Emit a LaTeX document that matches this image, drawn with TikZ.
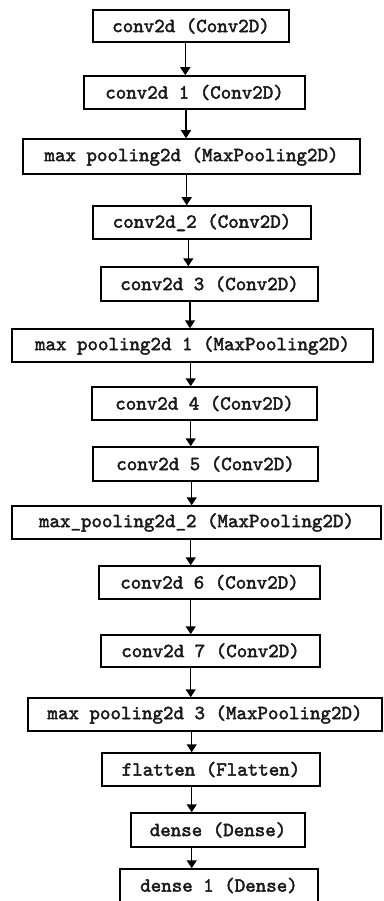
\documentclass[tikz,border=0pt]{standalone}
\usepackage{fontspec}
\newfontfamily\layerfont{lmmono10-regular.otf}[FakeBold=2.2]
\usetikzlibrary{arrows.meta}
\begin{document}
\begin{tikzpicture}[x=1pt,y=-1pt,
  layer/.style={draw=black, line width=1.5pt, rectangle, inner sep=0pt,
    font=\layerfont\fontsize{20}{22}\selectfont, text=black!90},
  arr/.style={line width=1.5pt, -{Triangle[length=8pt,width=10pt]}}]
\useasboundingbox (0,0) rectangle (383,901);
\fill[white] (0,0) rectangle (383,901);
\node[layer, minimum width=196pt, minimum height=32pt] (b1) at (191,26) {conv2d (Conv2D)};
\node[layer, minimum width=221pt, minimum height=33pt] (b2) at (194.5,92.5) {conv2d 1 (Conv2D)};
\node[layer, minimum width=337pt, minimum height=35pt] (b3) at (191.5,156.5) {max pooling2d (MaxPooling2D)};
\node[layer, minimum width=218pt, minimum height=33pt] (b4) at (202,222.5) {conv2d\_2 (Conv2D)};
\node[layer, minimum width=217pt, minimum height=34pt] (b5) at (209.5,284) {conv2d 3 (Conv2D)};
\node[layer, minimum width=361pt, minimum height=33pt] (b6) at (192.5,345.5) {max pooling2d 1 (MaxPooling2D)};
\node[layer, minimum width=225pt, minimum height=33pt] (b7) at (204.5,403.5) {conv2d 4 (Conv2D)};
\node[layer, minimum width=225pt, minimum height=34pt] (b8) at (205.5,464) {conv2d 5 (Conv2D)};
\node[layer, minimum width=369pt, minimum height=33pt] (b9) at (196.5,522.5) {max\_pooling2d\_2 (MaxPooling2D)};
\node[layer, minimum width=221pt, minimum height=33pt] (b10) at (209.5,582.5) {conv2d 6 (Conv2D)};
\node[layer, minimum width=219pt, minimum height=32pt] (b11) at (210.5,651) {conv2d 7 (Conv2D)};
\node[layer, minimum width=354pt, minimum height=33pt] (b12) at (205,714.5) {max pooling2d 3 (MaxPooling2D)};
\node[layer, minimum width=218pt, minimum height=33pt] (b13) at (211,769.5) {flatten (Flatten)};
\node[layer, minimum width=174pt, minimum height=34pt] (b14) at (218,830) {dense (Dense)};
\node[layer, minimum width=198pt, minimum height=33pt] (b15) at (219,885.5) {dense 1 (Dense)};
\draw[arr] ([xshift=-5.7pt]b1.south) -- ([xshift=-5.7pt]b1.south |- b2.north);
\draw[arr] ([xshift=-8.5pt]b2.south) -- ([xshift=-8.5pt]b2.south |- b3.north);
\draw[arr] ([xshift=-4.8pt]b3.south) -- ([xshift=-4.8pt]b3.south |- b4.north);
\draw[arr] ([xshift=-13.7pt]b4.south) -- ([xshift=-13.7pt]b4.south |- b5.north);
\draw[arr] ([xshift=-19.5pt]b5.south) -- ([xshift=-19.5pt]b5.south |- b6.north);
\draw[arr] ([xshift=-1.8pt]b6.south) -- ([xshift=-1.8pt]b6.south |- b7.north);
\draw[arr] ([xshift=-13.8pt]b7.south) -- ([xshift=-13.8pt]b7.south |- b8.north);
\draw[arr] ([xshift=-13.8pt]b8.south) -- ([xshift=-13.8pt]b8.south |- b9.north);
\draw[arr] ([xshift=-5.8pt]b9.south) -- ([xshift=-5.8pt]b9.south |- b10.north);
\draw[arr] ([xshift=-18.8pt]b10.south) -- ([xshift=-18.8pt]b10.south |- b11.north);
\draw[arr] ([xshift=-19.8pt]b11.south) -- ([xshift=-19.8pt]b11.south |- b12.north);
\draw[arr] ([xshift=-13.3pt]b12.south) -- ([xshift=-13.3pt]b12.south |- b13.north);
\draw[arr] ([xshift=-19.3pt]b13.south) -- ([xshift=-19.3pt]b13.south |- b14.north);
\draw[arr] ([xshift=-26.3pt]b14.south) -- ([xshift=-26.3pt]b14.south |- b15.north);
\end{tikzpicture}
\end{document}
